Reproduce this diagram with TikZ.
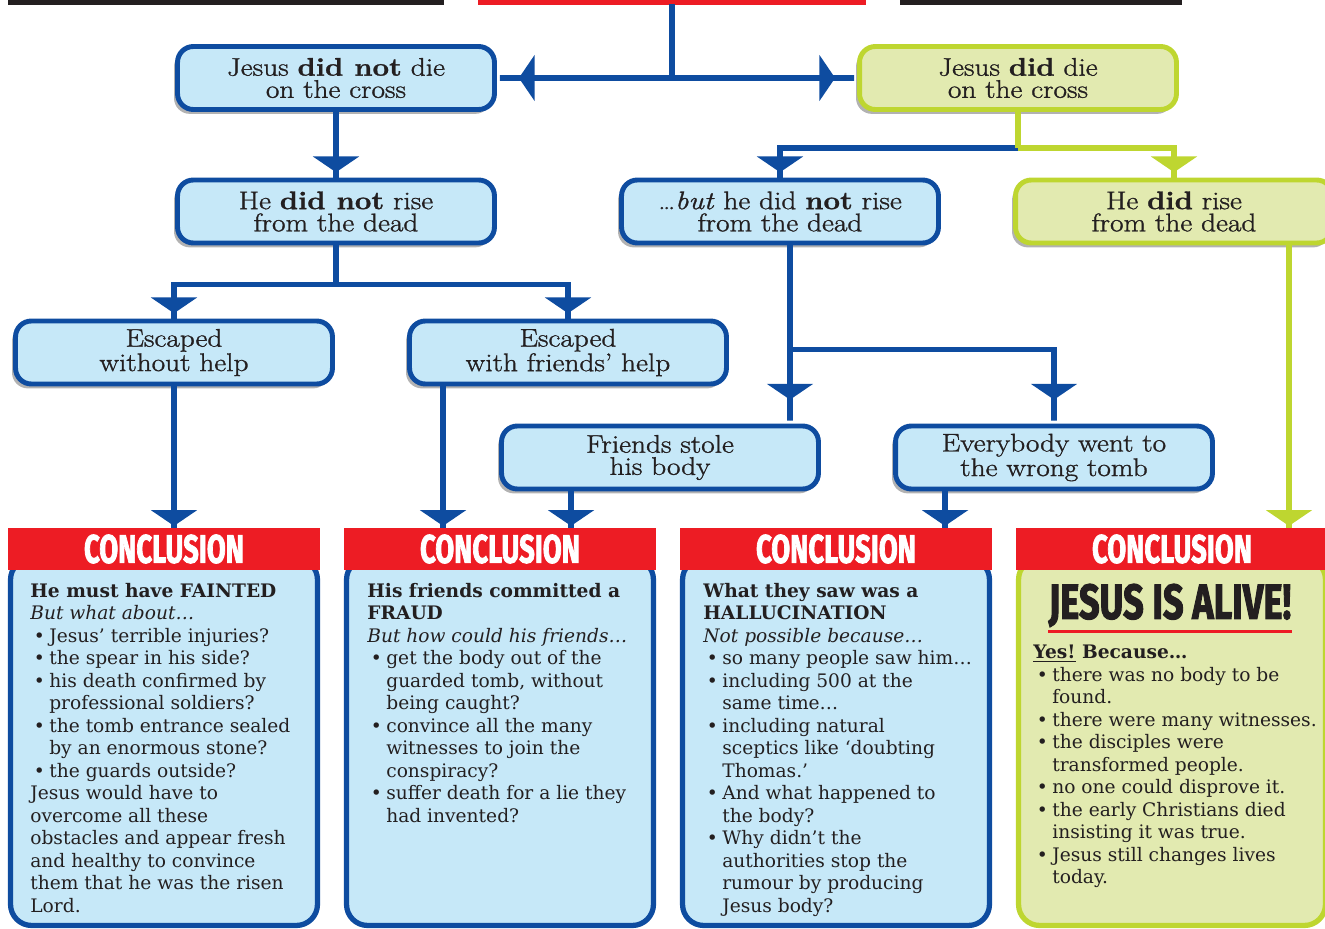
\documentclass[tikz,border=0pt]{standalone}
\usepackage{fontspec}
\usepackage{graphicx}
\usepackage{tikz}
\usetikzlibrary{arrows.meta}
\usetikzlibrary{shadows}
\usetikzlibrary{calc}
\newfontfamily\slab{DejaVu Serif}
\newfontfamily\boxfont{Latin Modern Roman}[FakeStretch=1.15,FakeBold=1.2]
\newfontfamily\heavy{Fira Sans}[BoldFeatures={FakeBold=2.5}]
\usepackage{xcolor}
\definecolor{lineblue}{RGB}{14,76,160}
\definecolor{fillblue}{RGB}{198,232,248}
\definecolor{limegreen}{RGB}{190,214,48}
\definecolor{fillgreen}{RGB}{226,234,176}
\definecolor{headred}{RGB}{237,28,36}
\definecolor{ink}{RGB}{35,31,32}
\tikzstyle{conn}=[line width=3.3pt,lineblue]
\tikzstyle{gconn}=[line width=3.3pt,limegreen]
\tikzstyle{qbox}=[draw=lineblue,fill=fillblue,line width=2.8pt,rounded corners=9pt,
  minimum width=6.34cm,minimum height=1.26cm,inner sep=0pt,align=center,text=ink,
  font=\boxfont\fontsize{14.5}{12.6}\selectfont,
  drop shadow={shadow xshift=-2pt,shadow yshift=-2.5pt,opacity=.3,fill=black}]
\tikzstyle{gbox}=[qbox,draw=limegreen,fill=fillgreen]
\tikzstyle{head}=[fill=headred,minimum width=6.24cm,minimum height=0.84cm,inner sep=0pt,text=white]
\tikzstyle{btext}=[anchor=north west,inner sep=0pt,align=left,text=ink,
  font=\slab\fontsize{10.6}{12.8}\selectfont]
\tikzset{
  Flow/.style={-{Triangle[width=26pt,length=9pt]Rectangle[width=3.3pt,length=#1]}},
  Flow/.default=3pt}
\newcommand{\bl}{\hspace*{2pt}\makebox[8.8pt][l]{\textbullet}}
\newcommand{\hg}{\hspace*{10.8pt}}

\begin{document}
\begin{tikzpicture}[x=0.02cm,y=-0.02cm]
  \useasboundingbox (0,0) rectangle (1325,929);
  \clip (0,0) rectangle (1325,929);

  % TITLE BARS
  \fill[ink] (8,0) rectangle (444,5);
  \fill[headred] (478,0) rectangle (866,5);
  \fill[ink] (900,0) rectangle (1182,5);
  \coordinate (top) at (672,4);

  % QUESTION BOXES
  \node[qbox] (A) at (336,78) {Jesus \textbf{did not} die\\on the cross};
  \node[gbox] (B) at (1018,78) {Jesus \textbf{did} die\\on the cross};
  \node[qbox] (C) at (336,211.5) {He \textbf{did not} rise\\from the dead};
  \node[qbox] (D) at (780,211.5) {\dots\textit{but} he did \textbf{not} rise\\from the dead};
  \node[gbox] (E) at (1174,211.5) {He \textbf{did} rise\\from the dead};
  \node[qbox] (F) at (174,352.5) {Escaped\\without help};
  \node[qbox] (G) at (568,352.5) {Escaped\\with friends’ help};
  \node[qbox] (H) at (660,457.5) {Friends stole\\his body};
  \node[qbox] (I) at (1054,457.5) {Everybody went to\\the wrong tomb};

  % CONCLUSION BOXES
  \foreach \x/\lc/\fc [count=\k] in {164/lineblue/fillblue,500/lineblue/fillblue,
      836/lineblue/fillblue,1172/limegreen/fillgreen}{
    \node[draw=\lc,fill=\fc,line width=3pt,rounded corners=12pt,minimum width=6.14cm,
      minimum height=7.34cm,inner sep=0pt] (body\k) at (\x,742) {};
    \node[head] (head\k) at (\x,549) {\resizebox{91pt}{16pt}{\heavy\bfseries CONCLUSION}};
  }

  % CONNECTORS
  \draw[conn] (top) -- (top |- A.east);
  \draw[conn,Flow=12.5pt] (top |- A.east) -- (A.east);
  \draw[conn,Flow=12.5pt] (top |- B.west) -- (B.west);
  \draw[conn,Flow] (A.south) -- (C.north);
  \path (B.south) ++(0,36) coordinate (bsplit);
  \draw[conn,Flow] (bsplit) -| (D.north);
  \draw[gconn,Flow] (bsplit) -| (E.north);
  \draw[gconn] (B.south) -- (bsplit);
  \draw[conn] (C.south) -- ++(0,39) coordinate (csplit);
  \draw[conn,Flow] (csplit) -| (F.north);
  \draw[conn,Flow] (csplit) -| (G.north);
  \coordinate (dout) at ([xshift=0.2cm]D.south);
  \draw[conn,Flow=13.6pt] (dout) -- (dout |- H.north);
  \draw[conn,Flow=13.6pt] (dout) ++(0,104) -| (I.north);
  \coordinate (gout) at ([xshift=-2.5cm]G.south);
  \coordinate (hout) at ([xshift=-1.78cm]H.south);
  \coordinate (iout) at ([xshift=-2.18cm]I.south);
  \coordinate (eout) at ([xshift=2.3cm]E.south);
  \draw[conn,Flow=1pt] (F.south) -- (F.south |- head1.north);
  \draw[conn,Flow=1pt] (gout) -- (gout |- head2.north);
  \draw[conn,Flow=1pt] (hout) -- (hout |- head2.north);
  \draw[conn,Flow=1pt] (iout) -- (iout |- head3.north);
  \draw[gconn,Flow=1pt] (eout) -- (eout |- head4.north);

  % CONCLUSION TEXTS
  \node[btext] (txt1) at (30,583) {\textbf{He must have FAINTED}\\
    \textit{But what about…}\\
    \bl Jesus’ terrible injuries?\\
    \bl the spear in his side?\\
    \bl his death confirmed by\\
    \hg professional soldiers?\\
    \bl the tomb entrance sealed\\
    \hg by an enormous stone?\\
    \bl the guards outside?\\
    Jesus would have to\\
    overcome all these\\
    obstacles and appear fresh\\
    and healthy to convince\\
    them that he was the risen\\
    Lord.};
  \node[btext] (txt2) at (367,583) {\textbf{His friends committed a}\\
    \textbf{FRAUD}\\
    \textit{But how could his friends…}\\
    \bl get the body out of the\\
    \hg guarded tomb, without\\
    \hg being caught?\\
    \bl convince all the many\\
    \hg witnesses to join the\\
    \hg conspiracy?\\
    \bl suffer death for a lie they\\
    \hg had invented?};
  \node[btext] (txt3) at (703,583) {\textbf{What they saw was a}\\
    \textbf{HALLUCINATION}\\
    \textit{Not possible because…}\\
    \bl so many people saw him…\\
    \bl including 500 at the\\
    \hg same time…\\
    \bl including natural\\
    \hg sceptics like ‘doubting\\
    \hg Thomas.’\\
    \bl And what happened to\\
    \hg the body?\\
    \bl Why didn’t the\\
    \hg authorities stop the\\
    \hg rumour by producing\\
    \hg Jesus body?};
  \node[inner sep=0pt,text=ink] (alive) at (1170,605.5)
    {\resizebox{138pt}{19.8pt}{\heavy\bfseries JESUS IS ALIVE!}};
  \draw[headred,line width=1.7pt] ([yshift=-2.2pt]alive.south west) -- ([yshift=-2.2pt]alive.south east);
  \node[btext] (txt4) at (1033,645) {\textbf{\underline{Yes!} Because…}\\
    \bl there was no body to be\\
    \hg found.\\
    \bl there were many witnesses.\\
    \bl the disciples were\\
    \hg transformed people.\\
    \bl no one could disprove it.\\
    \bl the early Christians died\\
    \hg insisting it was true.\\
    \bl Jesus still changes lives\\
    \hg today.};
\end{tikzpicture}
\end{document}
